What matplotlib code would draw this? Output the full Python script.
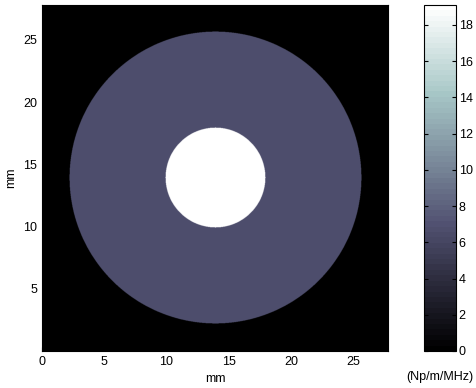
import numpy as np
import matplotlib
matplotlib.use('Agg')
import matplotlib.pyplot as plt
from matplotlib.colors import ListedColormap

plt.rcParams['font.family'] = ['Liberation Sans', 'DejaVu Sans']
plt.rcParams['font.size'] = 9

# phantom description (mm, Np/m/MHz)
field_size = 27.8
center = [13.9, 13.9]
radii = [11.7, 4.0]          # outer shell, inner inclusion
values = [0.0, 6.7, 19.1]    # background, shell, inclusion
xticks = [0, 5, 10, 15, 20, 25]
yticks = [5, 10, 15, 20, 25]
cticks = [0, 2, 4, 6, 8, 10, 12, 14, 16, 18]

# build the attenuation map
n = 1200
x = np.linspace(0, field_size, n)
X, Y = np.meshgrid(x, x)
r = np.hypot(X - center[0], Y - center[1])
img = np.full_like(X, values[0])
img[r <= radii[0]] = values[1]
img[r <= radii[1]] = values[2]

cmap = ListedColormap(plt.get_cmap('bone')(np.linspace(0, 1, 64)))

fig = plt.figure(figsize=(4.77, 3.88), dpi=100)
ax = fig.add_axes([0.088, 0.0954, 0.7254, 0.8918])
im = ax.imshow(img, cmap=cmap, vmin=values[0], vmax=values[2], origin='lower',
               extent=[0, field_size, 0, field_size], interpolation='antialiased',
               aspect='auto')
ax.set_xticks(xticks)
ax.set_yticks(yticks)
ax.tick_params(direction='in', length=3, colors='black')
ax.set_xlabel('mm', labelpad=4)
ax.set_ylabel('mm', labelpad=4)

cax = fig.add_axes([0.889, 0.0954, 0.067, 0.8918])
cb = fig.colorbar(im, cax=cax)
cb.set_ticks(cticks)
cax.tick_params(direction='in', length=3, left=True, right=True, pad=2)
cb.outline.set_linewidth(0.8)
cax.text(0.5, -0.075, '(Np/m/MHz)', transform=cax.transAxes, ha='center', va='center')

fig.savefig('out.png', dpi=100)
